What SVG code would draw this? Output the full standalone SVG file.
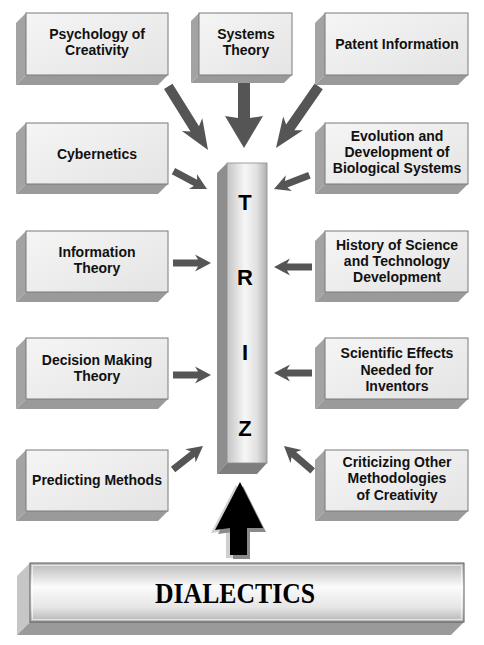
<svg xmlns="http://www.w3.org/2000/svg" xmlns:xlink="http://www.w3.org/1999/xlink" width="484" height="645" viewBox="0 0 484 645">
<style>
.face{fill:url(#gFace);stroke:#7a7a7a;stroke-width:1}
.side{fill:#a3a3a3}
.bot{fill:#9a9a9a}
.lbl{font-family:"Liberation Sans",Arial,sans-serif;font-weight:bold;font-size:14px;fill:#111;text-anchor:middle}
.triz{font-family:"Liberation Sans",Arial,sans-serif;font-weight:bold;font-size:22px;fill:#000;text-anchor:middle}
.arr{fill:#555}
</style>
<defs>
<linearGradient id="gFace" x1="0" y1="0" x2="1" y2="1">
<stop offset="0" stop-color="#f5f5f5"/>
<stop offset="1" stop-color="#e4e4e4"/>
</linearGradient>
<linearGradient id="gCol" x1="0" y1="0" x2="1" y2="0">
<stop offset="0" stop-color="#c4c4c4"/>
<stop offset="0.45" stop-color="#f6f6f6"/>
<stop offset="0.75" stop-color="#e0e0e0"/>
<stop offset="1" stop-color="#b0b0b0"/>
</linearGradient>
<linearGradient id="gDia" x1="0" y1="0" x2="0" y2="1">
<stop offset="0" stop-color="#b8b8b8"/>
<stop offset="0.4" stop-color="#fbfbfb"/>
<stop offset="0.75" stop-color="#e6e6e6"/>
<stop offset="1" stop-color="#b4b4b4"/>
</linearGradient>
<path id="aS" d="M0,0 L-16,-8.5 L-13,-3.5 L-38,-3.5 L-38,3.5 L-13,3.5 L-16,8.5 Z"/>
<path id="aL" d="M0,0 L-30,-12 L-25,-5 L-75,-5 L-75,5 L-25,5 L-30,12 Z"/>
<path id="aV" d="M0,0 L-32,-19 L-30,-6 L-65,-6 L-65,6 L-30,6 L-32,19 Z"/>
<path id="aBig" d="M240,482 L215,530 L230,528 L230,555 L247,555 L247,528 L263,528 Z"/>
</defs>
<rect width="484" height="645" fill="#fff"/>

<g id="connectors">
<use xlink:href="#aL" class="arr" transform="translate(208,150) rotate(58)"/>
<use xlink:href="#aV" class="arr" transform="translate(244,148) rotate(90)"/>
<use xlink:href="#aL" class="arr" transform="translate(276,148) rotate(124.7)"/>
<use xlink:href="#aS" class="arr" transform="translate(207,189) rotate(28)"/>
<use xlink:href="#aS" class="arr" transform="translate(274,189) rotate(158.7)"/>
<use xlink:href="#aS" class="arr" transform="translate(211,263)"/>
<use xlink:href="#aS" class="arr" transform="translate(274,267) rotate(180)"/>
<use xlink:href="#aS" class="arr" transform="translate(211,375)"/>
<use xlink:href="#aS" class="arr" transform="translate(274,373) rotate(180)"/>
<use xlink:href="#aS" class="arr" transform="translate(203,446) rotate(-38)"/>
<use xlink:href="#aS" class="arr" transform="translate(284,446) rotate(-139)"/>
<g id="bigArrow">
<use xlink:href="#aBig" fill="#cfcfcf" transform="translate(-4,3)"/>
<use xlink:href="#aBig" fill="#8a8a8a" transform="translate(3,4)"/>
<use xlink:href="#aBig" fill="#000"/>
</g>
</g>

<g id="triz">
<polygon points="227,163 217,173 217,474 227,463" fill="#8e8e8e"/>
<polygon points="227,463 217,474 257,474 267,463" fill="#7e7e7e"/>
<rect x="227" y="163" width="40" height="300" fill="url(#gCol)" stroke="#8a8a8a" stroke-width="0.8"/>
<text class="triz" x="245" y="210">T</text>
<text class="triz" x="245" y="285">R</text>
<text class="triz" x="245" y="360">I</text>
<text class="triz" x="245" y="436">Z</text>
</g>

<g id="n-psychology">
<polygon class="side" points="26,13 16,23 16,85 26,75"/>
<polygon class="bot" points="26,75 16,85 158,85 168,75"/>
<rect class="face" x="26" y="13" width="142" height="62"/>
<text class="lbl" x="97" y="39">Psychology of</text>
<text class="lbl" x="97" y="55">Creativity</text>
</g>
<g id="n-systems">
<polygon class="side" points="199,13 191,21 191,83 199,75"/>
<polygon class="bot" points="199,75 191,83 284,83 292,75"/>
<rect class="face" x="199" y="13" width="93" height="62"/>
<text class="lbl" x="246" y="39">Systems</text>
<text class="lbl" x="246" y="55">Theory</text>
</g>
<g id="n-patent">
<polygon class="side" points="325,13 315,23 315,85 325,75"/>
<polygon class="bot" points="325,75 315,85 458,85 468,75"/>
<rect class="face" x="325" y="13" width="143" height="62"/>
<text class="lbl" x="397" y="49">Patent Information</text>
</g>
<g id="n-cybernetics">
<polygon class="side" points="26,123 16,133 16,194 26,184"/>
<polygon class="bot" points="26,184 16,194 158,194 168,184"/>
<rect class="face" x="26" y="123" width="142" height="61"/>
<text class="lbl" x="97" y="159">Cybernetics</text>
</g>
<g id="n-evolution">
<polygon class="side" points="325,123 315,133 315,194 325,184"/>
<polygon class="bot" points="325,184 315,194 458,194 468,184"/>
<rect class="face" x="325" y="123" width="143" height="61"/>
<text class="lbl" x="397" y="141">Evolution and</text>
<text class="lbl" x="397" y="157">Development of</text>
<text class="lbl" x="397" y="173">Biological Systems</text>
</g>
<g id="n-information">
<polygon class="side" points="26,231 16,241 16,302 26,292"/>
<polygon class="bot" points="26,292 16,302 158,302 168,292"/>
<rect class="face" x="26" y="231" width="142" height="61"/>
<text class="lbl" x="97" y="257">Information</text>
<text class="lbl" x="97" y="273">Theory</text>
</g>
<g id="n-history">
<polygon class="side" points="325,231 315,241 315,302 325,292"/>
<polygon class="bot" points="325,292 315,302 458,302 468,292"/>
<rect class="face" x="325" y="231" width="143" height="61"/>
<text class="lbl" x="397" y="250">History of Science</text>
<text class="lbl" x="397" y="266">and Technology</text>
<text class="lbl" x="397" y="282">Development</text>
</g>
<g id="n-decision">
<polygon class="side" points="26,338 16,348 16,409 26,399"/>
<polygon class="bot" points="26,399 16,409 158,409 168,399"/>
<rect class="face" x="26" y="338" width="142" height="61"/>
<text class="lbl" x="97" y="365">Decision Making</text>
<text class="lbl" x="97" y="381">Theory</text>
</g>
<g id="n-scientific">
<polygon class="side" points="325,338 315,348 315,409 325,399"/>
<polygon class="bot" points="325,399 315,409 458,409 468,399"/>
<rect class="face" x="325" y="338" width="143" height="61"/>
<text class="lbl" x="397" y="358">Scientific Effects</text>
<text class="lbl" x="397" y="375">Needed for</text>
<text class="lbl" x="397" y="391">Inventors</text>
</g>
<g id="n-predicting">
<polygon class="side" points="26,450 16,460 16,521 26,511"/>
<polygon class="bot" points="26,511 16,521 158,521 168,511"/>
<rect class="face" x="26" y="450" width="142" height="61"/>
<text class="lbl" x="97" y="485">Predicting Methods</text>
</g>
<g id="n-criticizing">
<polygon class="side" points="325,450 315,460 315,521 325,511"/>
<polygon class="bot" points="325,511 315,521 458,521 468,511"/>
<rect class="face" x="325" y="450" width="143" height="61"/>
<text class="lbl" x="397" y="467">Criticizing Other</text>
<text class="lbl" x="397" y="483">Methodologies</text>
<text class="lbl" x="397" y="500">of Creativity</text>
</g>

<g id="n-dialectics">
<polygon points="30,563 17,576 17,635 30,622" fill="#c6c6c6"/>
<polygon points="30,622 17,635 451,635 464,622" fill="#9a9a9a"/>
<rect x="30" y="563" width="434" height="59" fill="url(#gDia)" stroke="#5a5a5a" stroke-width="1"/>
<rect x="32.5" y="565.5" width="429" height="54" fill="none" stroke="#ffffff" stroke-opacity="0.6" stroke-width="1"/>
<text x="235" y="603" font-family="'Liberation Serif','Times New Roman',serif" font-weight="bold" font-size="29" fill="#000" text-anchor="middle" textLength="160" lengthAdjust="spacingAndGlyphs">DIALECTICS</text>
</g>
</svg>
